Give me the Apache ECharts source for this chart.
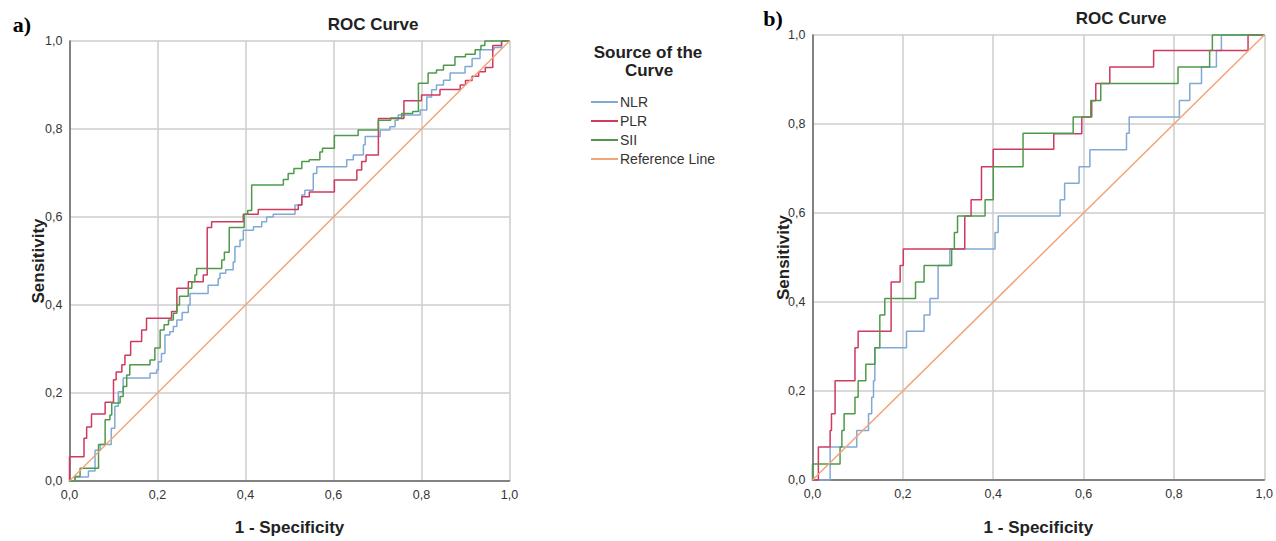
<!DOCTYPE html>
<html><head><meta charset="utf-8">
<script src="https://cdn.jsdelivr.net/npm/echarts/dist/echarts.min.js"></script>
<style>html,body{margin:0;padding:0;background:#fff}#c{width:1276px;height:541px}</style>
</head><body><div id="c"></div><script>
// ---- data ----
const tickLabels = ['0,0','0,2','0,4','0,6','0,8','1,0'];
const seriesNames = ['NLR','PLR','SII','Reference Line'];

// Panel a (step points: x = 1-specificity, y = sensitivity after the rise)
const aNLR_x = [0,0.0125,0.043,0.058,0.07,0.095,0.103,0.111,0.122,0.183,0.198,0.202,0.209,0.217,0.228,0.236,0.244,0.256,0.27,0.274,0.315,0.338,0.342,0.355,0.372,0.376,0.3875,0.395,0.418,0.437,0.448,0.463,0.5125,0.528,0.535,0.554,0.562,0.63,0.645,0.668,0.672,0.706,0.728,0.74,0.747,0.797,0.812,0.823,0.834,0.85,0.865,0.899,0.915,0.933,0.965,0.982,1];
const aNLR_y = [0,0.009,0.023,0.07,0.083,0.12,0.17,0.203,0.234,0.245,0.252,0.271,0.29,0.332,0.339,0.351,0.366,0.383,0.4,0.426,0.445,0.46,0.472,0.48,0.498,0.533,0.548,0.57,0.578,0.589,0.6,0.606,0.627,0.65,0.661,0.699,0.714,0.73,0.741,0.764,0.783,0.798,0.805,0.82,0.832,0.843,0.873,0.889,0.9,0.911,0.927,0.942,0.96,0.98,0.985,1,1];

const aPLR_x = [0,0,0.033,0.039,0.05,0.081,0.1,0.106,0.119,0.126,0.139,0.164,0.175,0.232,0.244,0.27,0.304,0.313,0.323,0.395,0.429,0.52,0.528,0.545,0.602,0.653,0.664,0.674,0.702,0.76,0.8,0.842,0.888,0.9,0.915,0.93,0.945,0.962,0.982,1];
const aPLR_y = [0,0.055,0.097,0.123,0.152,0.179,0.23,0.248,0.264,0.286,0.317,0.343,0.37,0.385,0.438,0.453,0.468,0.576,0.589,0.606,0.617,0.627,0.646,0.657,0.684,0.707,0.726,0.741,0.824,0.864,0.877,0.89,0.9,0.91,0.92,0.93,0.94,0.99,1,1];

const aSII_x = [0,0.0125,0.024,0.066,0.081,0.092,0.096,0.115,0.122,0.13,0.137,0.183,0.194,0.206,0.215,0.225,0.236,0.244,0.25,0.27,0.278,0.285,0.289,0.346,0.352,0.363,0.397,0.405,0.414,0.486,0.497,0.51,0.528,0.545,0.569,0.575,0.602,0.656,0.702,0.73,0.755,0.78,0.793,0.815,0.834,0.85,0.876,0.9,0.922,0.935,0.944,1];
const aSII_y = [0,0.01,0.029,0.083,0.139,0.15,0.177,0.192,0.215,0.241,0.264,0.275,0.302,0.343,0.355,0.366,0.381,0.4,0.42,0.438,0.453,0.468,0.483,0.502,0.52,0.576,0.606,0.615,0.673,0.685,0.699,0.71,0.726,0.73,0.748,0.756,0.785,0.798,0.82,0.825,0.835,0.84,0.904,0.927,0.934,0.945,0.964,0.97,0.98,0.99,1,1];

// Panel b
const bNLR_x = [0,0.039,0.098,0.124,0.131,0.135,0.138,0.208,0.247,0.26,0.278,0.304,0.404,0.411,0.548,0.558,0.59,0.614,0.695,0.701,0.812,0.835,0.861,0.894,0.905,1];
const bNLR_y = [0,0.074,0.111,0.149,0.186,0.223,0.297,0.334,0.371,0.408,0.482,0.519,0.556,0.593,0.63,0.667,0.704,0.742,0.779,0.816,0.853,0.891,0.928,0.965,1,1];

const bPLR_x = [0,0.013,0.039,0.042,0.05,0.094,0.101,0.174,0.194,0.201,0.337,0.351,0.374,0.4,0.534,0.596,0.618,0.627,0.658,0.755,0.964,1];
const bPLR_y = [0,0.074,0.111,0.149,0.223,0.297,0.334,0.445,0.482,0.519,0.593,0.63,0.704,0.743,0.778,0.816,0.852,0.891,0.928,0.965,1,1];

const bSII_x = [0,0,0.061,0.065,0.07,0.094,0.101,0.118,0.138,0.149,0.16,0.228,0.247,0.308,0.314,0.321,0.382,0.4,0.466,0.577,0.616,0.638,0.809,0.879,0.885,1];
const bSII_y = [0,0.036,0.074,0.111,0.149,0.186,0.223,0.26,0.297,0.371,0.408,0.445,0.482,0.519,0.556,0.593,0.63,0.704,0.779,0.816,0.853,0.891,0.928,0.965,1,1];

const ref_x = [0,1];
const ref_y = [0,1];

// ---- styles ----
const colors = {NLR:'#80a9d6', PLR:'#cf3a60', SII:'#4f9a4a', 'Reference Line':'#f2a479'};
const SANS = '"Liberation Sans", Arial, sans-serif';
const pair = (xs, ys) => xs.map((x, i) => [x, ys[i]]);

function axisCommon(gi, isX, nameGap) {
  return {
    gridIndex: gi, type: 'value', min: 0, max: 1, interval: 0.2,
    name: isX ? '1 - Specificity' : 'Sensitivity',
    nameLocation: 'middle', nameGap: nameGap, nameMoveOverlap: false,
    nameTextStyle: {fontFamily: SANS, fontWeight: 'bold', fontSize: 17, color: '#222'},
    axisLine: {show: true, onZero: false, lineStyle: {color: '#666', width: 1.5}},
    axisTick: {show: false},
    splitLine: {show: true, lineStyle: {color: '#cdcdcd', width: 1.5}},
    axisLabel: {color: '#333', fontSize: 12.5, fontFamily: SANS, margin: 7,
      formatter: v => tickLabels[Math.round(v / 0.2)]}
  };
}

function lineSeries(name, gi, xs, ys, stepped) {
  return {
    name: name, type: 'line', xAxisIndex: gi, yAxisIndex: gi,
    data: pair(xs, ys), step: stepped ? 'end' : false,
    symbol: 'none', showSymbol: false, clip: false,
    lineStyle: {color: colors[name], width: 1.5},
    itemStyle: {color: colors[name]},
    emphasis: {disabled: true}, silent: true
  };
}

const chart = echarts.init(document.getElementById('c'), null, {renderer: 'svg'});
chart.setOption({
  animation: false,
  backgroundColor: '#ffffff',
  grid: [
    {left: 69.5, top: 41, width: 440, height: 440},
    {left: 812.5, top: 35, width: 452, height: 450.5}
  ],
  xAxis: [axisCommon(0, true, 38), axisCommon(1, true, 39)],
  yAxis: [axisCommon(0, false, 23), axisCommon(1, false, 21)],
  legend: {
    orient: 'vertical', left: 586, top: 90, itemWidth: 27, itemHeight: 2, itemGap: 5,
    icon: 'rect',
    data: seriesNames, selectedMode: false,
    textStyle: {fontFamily: SANS, fontSize: 14, color: '#333', lineHeight: 14, padding: [0,0,0,-3]}
  },
  graphic: [
    {type: 'text', x: 22, y: 24, style: {text: 'a)', font: 'bold 22px "Liberation Serif", "Times New Roman", serif', fill: '#000', textAlign: 'center', textVerticalAlign: 'middle', align: 'center', verticalAlign: 'middle'}},
    {type: 'text', x: 773, y: 18, style: {text: 'b)', font: 'bold 22px "Liberation Serif", "Times New Roman", serif', fill: '#000', textAlign: 'center', textVerticalAlign: 'middle', align: 'center', verticalAlign: 'middle'}},
    {type: 'text', x: 373, y: 24, style: {text: 'ROC Curve', font: 'bold 17px ' + SANS, fill: '#222', textAlign: 'center', textVerticalAlign: 'middle', align: 'center', verticalAlign: 'middle'}},
    {type: 'text', x: 1121, y: 18, style: {text: 'ROC Curve', font: 'bold 17px ' + SANS, fill: '#222', textAlign: 'center', textVerticalAlign: 'middle', align: 'center', verticalAlign: 'middle'}},
    {type: 'text', x: 648, y: 52, style: {text: 'Source of the', font: 'bold 17px ' + SANS, fill: '#222', textAlign: 'center', textVerticalAlign: 'middle', align: 'center', verticalAlign: 'middle'}},
    {type: 'text', x: 649, y: 70, style: {text: 'Curve', font: 'bold 17px ' + SANS, fill: '#222', textAlign: 'center', textVerticalAlign: 'middle', align: 'center', verticalAlign: 'middle'}}
  ],
  series: [
    lineSeries('NLR', 0, aNLR_x, aNLR_y, true),
    lineSeries('PLR', 0, aPLR_x, aPLR_y, true),
    lineSeries('SII', 0, aSII_x, aSII_y, true),
    lineSeries('Reference Line', 0, ref_x, ref_y, false),
    lineSeries('NLR', 1, bNLR_x, bNLR_y, true),
    lineSeries('PLR', 1, bPLR_x, bPLR_y, true),
    lineSeries('SII', 1, bSII_x, bSII_y, true),
    lineSeries('Reference Line', 1, ref_x, ref_y, false)
  ]
});
</script></body></html>
